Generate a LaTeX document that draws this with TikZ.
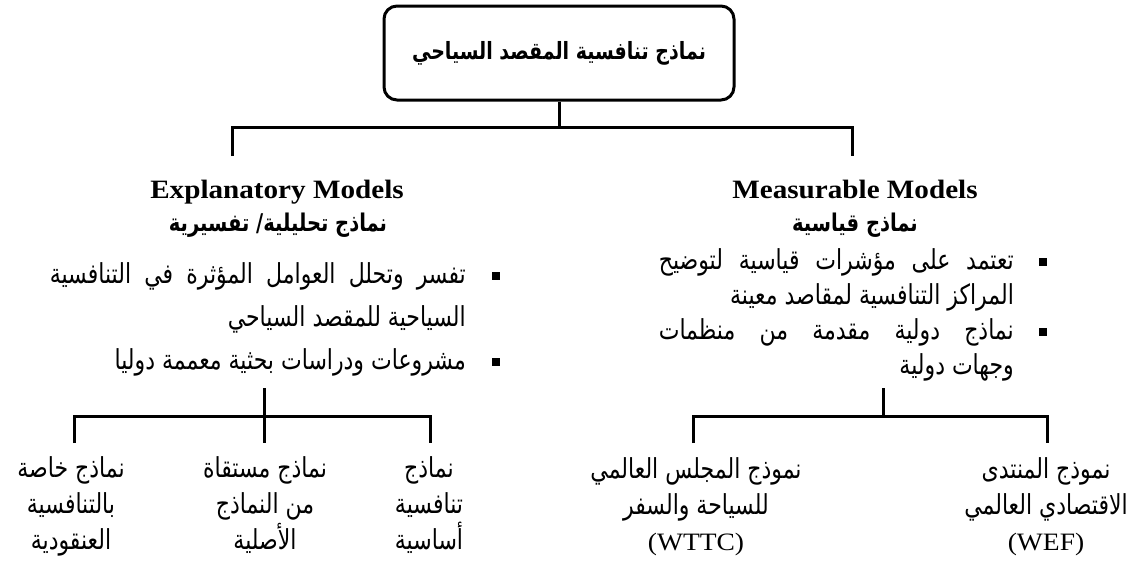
\documentclass[tikz,border=0pt]{standalone}
\usepackage{fontspec}
\setmainfont{Liberation Serif}
\newfontfamily\headfont[FakeStretch=1.1]{Liberation Serif}
\newfontfamily\arabicfont[Script=Arabic, FakeStretch=0.8]{DejaVu Sans}
\TeXXeTstate=1
\newcommand{\latintext}{\headfont\fontsize{25}{36}\selectfont}

\begin{document}
\begin{tikzpicture}[x=1pt,y=-1pt,
  wire/.style={line width=3pt},
  rootbox/.style={draw, line width=3pt, rounded corners=13pt,
    minimum width=350pt, minimum height=94pt, inner sep=0pt,
    font=\arabicfont\bfseries\fontsize{23.75}{28}\selectfont},
  headen/.style={anchor=base, inner sep=0pt, font=\headfont\bfseries\fontsize{26.5}{30}\selectfont},
  headar/.style={anchor=base, inner sep=0pt, font=\arabicfont\bfseries\fontsize{24.4}{28}\selectfont},
  bline/.style={anchor=base east, inner sep=0pt, font=\arabicfont\fontsize{27.5}{30}\selectfont},
  bullet/.style={fill, minimum size=8pt, inner sep=0pt},
  leaf/.style={anchor=base, inner sep=0pt, align=center,
    font=\arabicfont\fontsize{27.5}{36}\selectfont}
]
\useasboundingbox (0,0) rectangle (1139,560);

% root of the tree
\node[rootbox] (root) at (559,53) {\beginR نماذج تنافسية المقصد السياحي\endR};
\coordinate (bar) at (559,127);
\coordinate (legL) at (232,156);
\coordinate (legR) at (852,156);
\draw[wire] (root.south) -- (bar);
\draw[wire] (legL) |- (bar) -| (legR);

% left branch: explanatory models
\node[headen] (expEn) at (277,198) {Explanatory Models};
\node[headar] (expAr) at (278,231) {\beginR نماذج تحليلية/ تفسيرية\endR};
\node[bullet] (expB1) at (496,276) {};
\node[bline] (expL1) at (466,283) {\makebox[416pt][s]{\beginR تفسر وتحلل العوامل المؤثرة في التنافسية\endR}};
\node[bline] (expL2) at (466,326) {\beginR السياحية للمقصد السياحي\endR};
\node[bullet] (expB2) at (496,362) {};
\node[bline] (expL3) at (466,369) {\beginR مشروعات ودراسات بحثية معممة دوليا\endR};

% right branch: measurable models
\node[headen] (meaEn) at (855,198) {Measurable Models};
\node[headar] (meaAr) at (855,231) {\beginR نماذج قياسية\endR};
\node[bullet] (meaB1) at (1043,262) {};
\node[bline] (meaL1) at (1014,269) {\makebox[355pt][s]{\beginR تعتمد على مؤشرات قياسية لتوضيح\endR}};
\node[bline] (meaL2) at (1014,304) {\beginR المراكز التنافسية لمقاصد معينة\endR};
\node[bullet] (meaB2) at (1043,332) {};
\node[bline] (meaL3) at (1014,339) {\makebox[355pt][s]{\beginR نماذج دولية مقدمة من منظمات\endR}};
\node[bline] (meaL4) at (1014,374) {\beginR وجهات دولية\endR};

% lower left tree
\coordinate (lStem) at (264,388);
\coordinate (lBar) at (264,416);
\coordinate (lLegA) at (74,443);
\coordinate (lLegB) at (264,443);
\coordinate (lLegC) at (430,443);
\draw[wire] (lStem) -- (lLegB);
\draw[wire] (lLegA) |- (lBar) -| (lLegC);

% the base anchor of a three-line leaf sits on its last line
\node[leaf] (leafA) at (71,549) {\beginR نماذج خاصة\endR\\\beginR بالتنافسية\endR\\\beginR العنقودية\endR};
\node[leaf] (leafB) at (265,549) {\beginR نماذج مستقاة\endR\\\beginR من النماذج\endR\\\beginR الأصلية\endR};
\node[leaf] (leafC) at (429,549) {\beginR نماذج\endR\\\beginR تنافسية\endR\\\beginR أساسية\endR};

% lower right tree
\coordinate (rStem) at (883,388);
\coordinate (rBar) at (883,416);
\coordinate (rLegA) at (693,443);
\coordinate (rLegB) at (1047,443);
\draw[wire] (rStem) -- (rBar);
\draw[wire] (rLegA) |- (rBar) -| (rLegB);

\node[leaf] (leafD) at (696,550) {\beginR نموذج المجلس العالمي\endR\\\beginR للسياحة والسفر\endR\\{\latintext (WTTC)}};
\node[leaf] (leafE) at (1046,550) {\beginR نموذج المنتدى\endR\\\beginR الاقتصادي العالمي\endR\\{\latintext (WEF)}};
\end{tikzpicture}
\end{document}
